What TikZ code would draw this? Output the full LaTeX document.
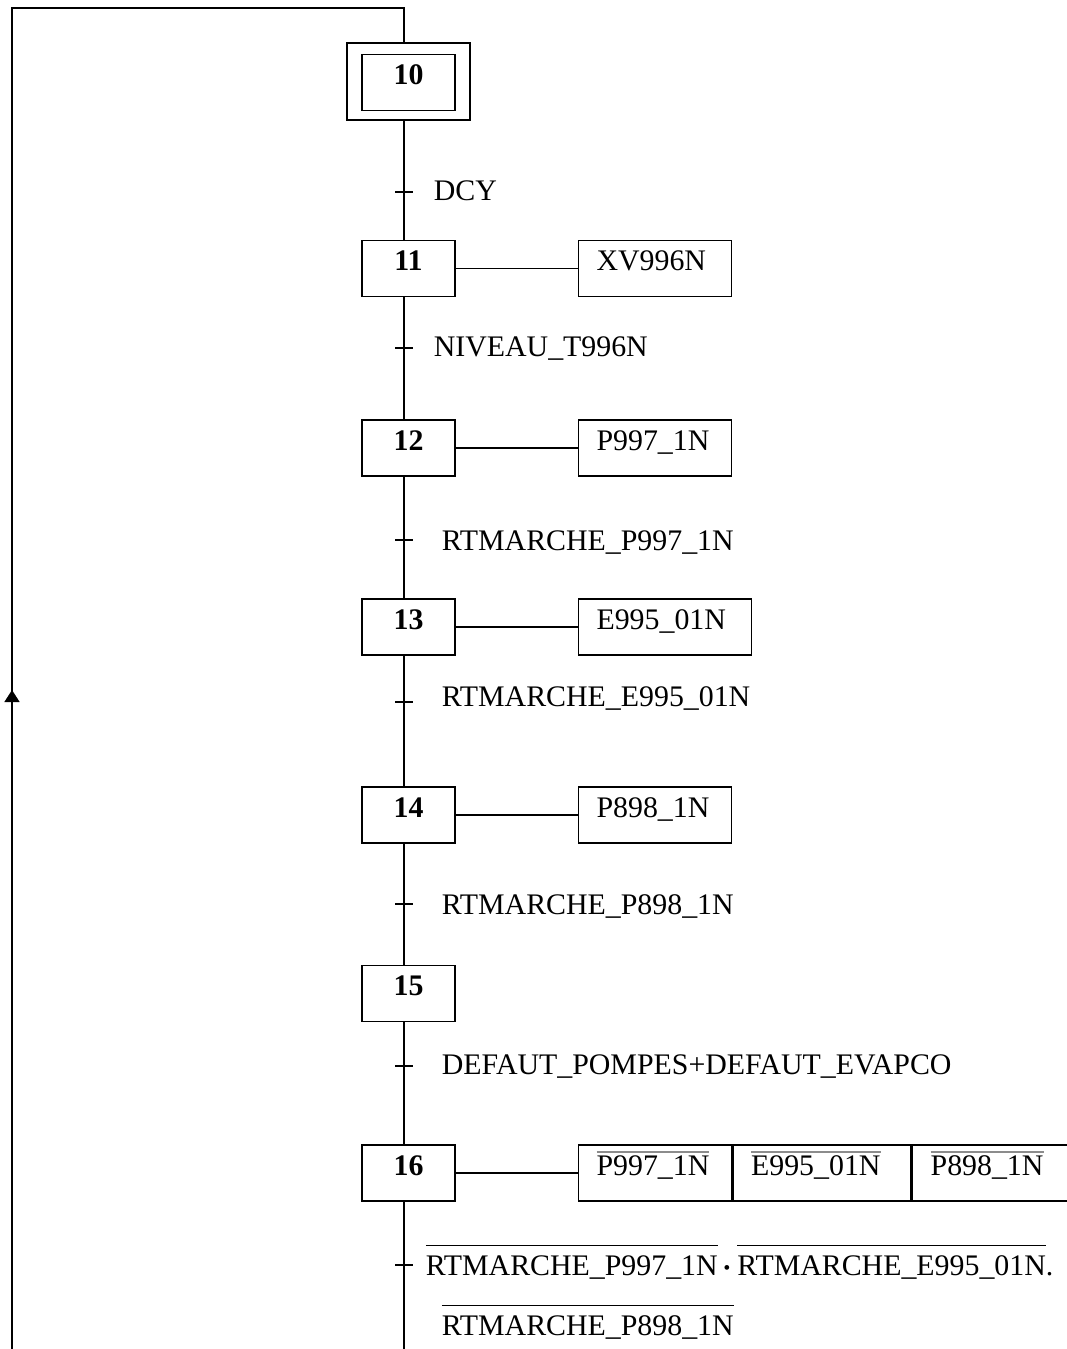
\documentclass[tikz,border=0pt]{standalone}
\usepackage{fontspec}
\setmainfont{Liberation Serif}
\usepackage{xcolor}
\usetikzlibrary{arrows.meta, positioning}

\newcommand{\diagfont}{\fontsize{17}{20}\selectfont}
\newcommand{\negbar}[1]{\vbox{\hrule height 0.8pt\kern 5pt\hbox{#1}}}
\newcommand{\actbar}[1]{\vbox{{\color{black!45}\hrule height 0.7pt}\kern 1.5pt\hbox{#1}}}

\begin{document}
\begin{tikzpicture}[
      x=0.02cm, y=-0.02cm, line width=0.9pt,
      every node/.style={font=\diagfont},
      etape/.style={draw, minimum width=1.86cm, inner sep=0, text height=0.6cm, text depth=0.52cm, font=\diagfont\bfseries},
      actbox/.style={draw, inner xsep=0.36cm, inner ysep=0, text height=0.6cm, text depth=0.52cm, align=left},
      recep/.style={anchor=west, inner sep=0, text height=0.4cm, text depth=0cm}
    ]
      \useasboundingbox (0,0) rectangle (1066,1349);
      \coordinate (spine) at (404,0);

      % etapes
      \node[etape] (s10) at (408.5,82.5) {10};
      \node[draw, minimum width=2.46cm, minimum height=1.54cm] (s10out) at (408.5,81.5) {};
      \node[etape] (s11) at (408.5,268.5) {11};
      \node[etape] (s12) at (408.5,448) {12};
      \node[etape] (s13) at (408.5,627) {13};
      \node[etape] (s14) at (408.5,815) {14};
      \node[etape] (s15) at (408.5,993.5) {15};
      \node[etape] (s16) at (408.5,1173) {16};

      % actions
      \node[actbox, text width=2.34cm, right=2.44cm of s11] (a11) {XV996N};
      \node[actbox, text width=2.34cm, right=2.44cm of s12] (a12) {P997\_1N};
      \node[actbox, text width=2.74cm, right=2.44cm of s13] (a13) {E995\_01N};
      \node[actbox, text width=2.34cm, right=2.44cm of s14] (a14) {P898\_1N};
      \node[actbox, text width=2.34cm, right=2.44cm of s16] (a16a) {\actbar{P997\_1N}};
      \node[actbox, text width=2.84cm, right=0pt of a16a] (a16b) {\actbar{E995\_01N}};
      \node[actbox, text width=3.28cm, right=0pt of a16b] (a16c) {\actbar{P898\_1N}};

      \foreach \s/\a in {s11/a11, s12/a12, s13/a13, s14/a14, s16/a16a}
        \draw (\s) -- (\a);

      % liaisons
      \foreach \a/\b in {s10out/s11, s11/s12, s12/s13, s13/s14, s14/s15, s15/s16}
        \draw (\a.south -| spine) -- (\b.north -| spine);
      \coordinate (bot) at (404,1349);
      \draw (s16.south -| spine) -- (bot);

      % retour
      \coordinate (loopB) at (12,1349);
      \coordinate (loopT) at (12,8);
      \draw[-{Triangle[length=0.24cm, width=0.3cm]}] (loopB) -- (12,690);
      \draw (12,700) -- (loopT) -- (loopT -| spine) -- (s10out.north -| spine);

      % receptivites
      \foreach \y in {192, 348, 540, 702, 904, 1066, 1265}
        \draw (395,\y) -- (413,\y);
      \node[recep] (r10) at (433,190) {DCY};
      \node[recep] (r11) at (433,346) {NIVEAU\_T996N};
      \node[recep] (r12) at (441,540) {RTMARCHE\_P997\_1N};
      \node[recep] (r13) at (441,696) {RTMARCHE\_E995\_01N};
      \node[recep] (r14) at (441,904) {RTMARCHE\_P898\_1N};
      \node[recep] (r15) at (441,1064) {DEFAUT\_POMPES+DEFAUT\_EVAPCO};
      \node[recep] (r16) at (425,1265) {\negbar{RTMARCHE\_P997\_1N}\,{\boldmath$\cdot$}\,\negbar{RTMARCHE\_E995\_01N}.};
      \node[recep] (r16b) at (441,1325) {\negbar{RTMARCHE\_P898\_1N}};
    \end{tikzpicture}
\end{document}
